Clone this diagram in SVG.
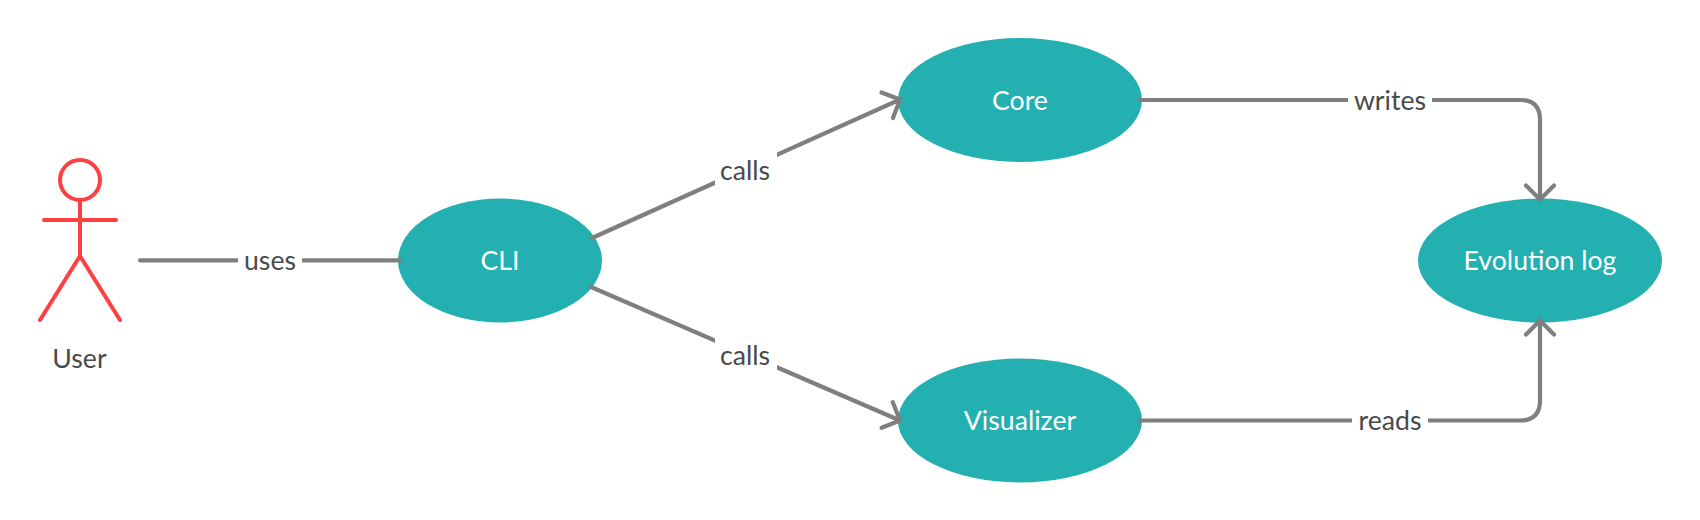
<svg xmlns="http://www.w3.org/2000/svg" width="1700" height="520" viewBox="0 0 1700 520">
<style>
text{font-family:"Lato","Liberation Sans",sans-serif;font-size:26.67px;text-anchor:middle}
.n{fill:#24b0b0}
.nt{fill:#fff}
.lb{fill:#4a4a4a}
.bg{fill:#fff}
.c{fill:none;stroke:#7f7f7f;stroke-width:4.200;stroke-linecap:round}
.a{fill:none;stroke:#ff4040;stroke-width:4;stroke-linecap:round}
.m{fill:none;stroke:#7f7f7f;stroke-width:4.200;stroke-linecap:round;stroke-linejoin:miter}
</style>
<defs>
<marker id="arrow" markerUnits="userSpaceOnUse" markerWidth="40" markerHeight="40" refX="20" refY="20" orient="auto" viewBox="0 0 40 40">
<path class="m" d="M6,6 L20,20 L6,34"/>
</marker>
</defs>
<rect width="1700" height="520" fill="#fff"/>
<g id="user">
<ellipse class="a" cx="80" cy="180" rx="20" ry="20"/>
<path class="a" d="M80,200V256M44,220H116M80,256L40,320M80,256L120,320"/>
<text class="lb" x="79.500" y="368">User</text>
</g>
<g id="cli"><ellipse class="n" cx="500" cy="260.500" rx="102" ry="62"/><text class="nt" x="500" y="270">CLI</text></g>
<g id="core"><ellipse class="n" cx="1020" cy="100" rx="122" ry="62"/><text class="nt" x="1020" y="110">Core</text></g>
<g id="visualizer"><ellipse class="n" cx="1020" cy="420.500" rx="122" ry="62"/><text class="nt" x="1020" y="430">Visualizer</text></g>
<g id="evolution-log"><ellipse class="n" cx="1540" cy="260.500" rx="122" ry="62"/><text class="nt" x="1540" y="270">Evolution log</text></g>
<g id="connectors">
<path class="c" d="M140,260.300H400"/>
<rect class="bg" x="238" y="243" width="64" height="34"/>
<text class="lb" x="270" y="270">uses</text>
<path class="c" d="M592,238L900,99.500" marker-end="url(#arrow)"/>
<rect class="bg" x="715" y="152" width="62" height="36"/>
<text class="lb" x="745" y="180">calls</text>
<path class="c" d="M591,287L900,420.500" marker-end="url(#arrow)"/>
<rect class="bg" x="715" y="338" width="62" height="36"/>
<text class="lb" x="745" y="364.500">calls</text>
<path class="c" d="M1140,100H1520Q1540,100 1540,120V199.500" marker-end="url(#arrow)"/>
<rect class="bg" x="1348" y="83" width="84" height="34"/>
<text class="lb" x="1390" y="110">writes</text>
<path class="c" d="M1140,420.500H1520Q1540,420.500 1540,400.500V320.500" marker-end="url(#arrow)"/>
<rect class="bg" x="1352" y="403" width="76" height="34"/>
<text class="lb" x="1390" y="430">reads</text>
</g>
</svg>
